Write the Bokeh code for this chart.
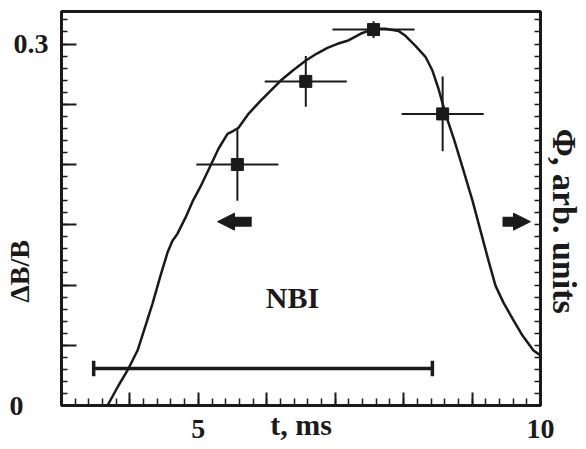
import math
from bokeh.plotting import figure
from bokeh.models import (LinearAxis, SingleIntervalTicker, FixedTicker, Arrow, NormalHead,
                          Label, Range1d, ColumnDataSource)
from bokeh.embed import file_html
from bokeh.resources import INLINE

# ---- data ----
phi_t = [3.672, 3.833, 3.979, 4.111, 4.228, 4.330, 4.447, 4.549, 4.622, 4.695, 4.812, 4.914,
         5.031, 5.177, 5.294, 5.426, 5.514, 5.587, 5.733, 5.908, 6.054, 6.200, 6.376, 6.566,
         6.726, 6.887, 7.033, 7.180, 7.370, 7.559, 7.735, 7.925, 8.027, 8.173, 8.319, 8.422,
         8.509, 8.612, 8.743, 8.875, 9.006, 9.123, 9.240, 9.342, 9.459, 9.591, 9.737, 9.898,
         10.0]
phi_v = [0.000, 0.0166, 0.0307, 0.0456, 0.0663, 0.0846, 0.1078, 0.1269, 0.1368, 0.1426, 0.1559,
         0.1692, 0.1816, 0.1990, 0.2131, 0.2255, 0.2280, 0.2305, 0.2421, 0.2529, 0.2612, 0.2695,
         0.2778, 0.2861, 0.2919, 0.2968, 0.3002, 0.3027, 0.3085, 0.3126, 0.3126, 0.3109, 0.3068,
         0.2985, 0.2894, 0.2778, 0.2629, 0.2421, 0.2197, 0.1949, 0.1700, 0.1451, 0.1202, 0.0995,
         0.0854, 0.0721, 0.0580, 0.0456, 0.0415]

pt_t = [5.57, 6.57, 7.56, 8.57]
pt_v = [0.200, 0.269, 0.312, 0.242]
pt_terr = [0.60, 0.60, 0.60, 0.60]
pt_verr = [0.030, 0.021, 0.007, 0.031]

nbi_start, nbi_end, nbi_level = 3.47, 8.42, 0.0307

x_tick_labels = {5: "5", 10: "10"}
y_tick_labels = {6: "0.3"}          # index of 0.05-steps -> label

NB = "\u00a0"
INK = "#1a1a1a"
FONT = "Liberation Serif"
FS = "28px"

p = figure(width=586, height=449, output_backend="svg", toolbar_location=None,
           x_range=Range1d(3, 10), y_range=Range1d(0, 0.327),
           min_border_left=61, min_border_right=46, min_border_top=11, min_border_bottom=44,
           background_fill_color="white", border_fill_color="white")
p.grid.visible = False
p.outline_line_color = INK
p.outline_line_width = 3


def style_text(ax, title_size="30px"):
    ax.major_label_text_font = FONT
    ax.major_label_text_font_style = "bold"
    ax.major_label_text_font_size = FS
    ax.major_label_text_color = INK
    ax.axis_label_text_font = FONT
    ax.axis_label_text_font_style = "bold"
    ax.axis_label_text_font_size = title_size
    ax.axis_label_text_color = INK


# bottom axis (ticks + tick labels)
xa = p.xaxis[0]
xa.ticker = SingleIntervalTicker(interval=1, num_minor_ticks=5)
xa.major_label_overrides = {t: x_tick_labels.get(t, "") for t in range(3, 11)}
xa.major_tick_in = 13
xa.major_tick_out = 0
xa.minor_tick_in = 7
xa.minor_tick_out = 0
xa.major_tick_line_width = 2
xa.minor_tick_line_width = 1.5
xa.axis_line_width = 3
xa.axis_line_color = INK
xa.major_tick_line_color = INK
xa.minor_tick_line_color = INK
xa.major_label_standoff = 14
style_text(xa)

# bottom title axis (only "t, ms")
xa2 = LinearAxis(ticker=FixedTicker(ticks=[]), axis_label="t, ms")
xa2.axis_line_color = None
xa2.major_tick_line_color = None
xa2.minor_tick_line_color = None
xa2.axis_label_standoff = -33
style_text(xa2)
p.add_layout(xa2, "below")

# left axis
ya = p.yaxis[0]
ya.ticker = SingleIntervalTicker(interval=0.05, num_minor_ticks=5)
ya.major_label_overrides = {i * 0.05: y_tick_labels.get(i, "") for i in range(7)}
ya.major_tick_in = 15
ya.major_tick_out = 0
ya.minor_tick_in = 6
ya.minor_tick_out = 0
ya.major_tick_line_width = 2
ya.minor_tick_line_width = 1.5
ya.axis_line_width = 3
ya.axis_line_color = INK
ya.major_tick_line_color = INK
ya.minor_tick_line_color = INK
ya.major_label_standoff = 13
style_text(ya)

# outer left axis: origin label "0" and "ΔB/B" (sits low on the axis, as in the original)
ya2 = LinearAxis(ticker=FixedTicker(ticks=[0]), axis_label="ΔB/B" + NB * 18)
ya2.major_label_overrides = {0: "0"}
ya2.axis_line_color = None
ya2.major_tick_line_color = None
ya2.minor_tick_line_color = None
ya2.major_tick_in = 0
ya2.major_tick_out = 0
ya2.minor_tick_in = 0
ya2.minor_tick_out = 0
ya2.major_label_standoff = -13
ya2.axis_label_standoff = -28
style_text(ya2, "28px")
p.add_layout(ya2, "left")

# right axis: small ticks only
ra = LinearAxis(ticker=SingleIntervalTicker(interval=0.5, num_minor_ticks=50))
ra.major_label_overrides = {0: ""}
ra.major_label_standoff = 0
ra.major_tick_in = 6
ra.major_tick_out = 0
ra.minor_tick_in = 6
ra.minor_tick_out = 0
ra.major_tick_line_width = 1.5
ra.minor_tick_line_width = 1.5
ra.major_tick_line_color = INK
ra.minor_tick_line_color = INK
ra.axis_line_width = 3
ra.axis_line_color = INK
style_text(ra)
p.add_layout(ra, "right")

# outer right axis: "Φ, arb. units"
ra2 = LinearAxis(ticker=FixedTicker(ticks=[]), axis_label=NB * 3 + "Φ, arb. units")
ra2.axis_line_color = None
ra2.major_tick_line_color = None
ra2.minor_tick_line_color = None
ra2.axis_label_standoff = 5
style_text(ra2, "34px")
p.add_layout(ra2, "right")

# curve
p.line(phi_t, phi_v, line_color=INK, line_width=2.5, line_join="round")

# error bars
src = ColumnDataSource(dict(
    t=pt_t, v=pt_v,
    t0=[a - b for a, b in zip(pt_t, pt_terr)], t1=[a + b for a, b in zip(pt_t, pt_terr)],
    v0=[a - b for a, b in zip(pt_v, pt_verr)], v1=[a + b for a, b in zip(pt_v, pt_verr)],
))
p.segment(x0="t0", x1="t1", y0="v", y1="v", source=src, line_color=INK, line_width=2)
p.segment(x0="t", x1="t", y0="v0", y1="v1", source=src, line_color=INK, line_width=2)
p.scatter(x="t", y="v", source=src, marker="square", size=12, fill_color=INK, line_color=INK)

# NBI bar
p.segment(x0=[nbi_start], x1=[nbi_end], y0=[nbi_level], y1=[nbi_level], line_color=INK, line_width=3.5)
p.segment(x0=[nbi_start, nbi_end], x1=[nbi_start, nbi_end],
          y0=[nbi_level - 0.0065] * 2, y1=[nbi_level + 0.0065] * 2, line_color=INK, line_width=3.5)

# arrows
for xs, xe in [(5.78, 5.28), (9.445, 9.854)]:
    p.add_layout(Arrow(x_start=xs, x_end=xe, y_start=0.1526, y_end=0.1526,
                       line_width=10, line_color=INK,
                       end=NormalHead(size=17, fill_color=INK, line_color=INK, line_width=1)))

p.add_layout(Label(x=6.376, y=0.0896, text="NBI", text_align="center", text_baseline="middle",
                   text_font=FONT, text_font_style="bold", text_font_size="30px", text_color=INK))

open("out.html", "w").write(file_html(p, INLINE))
